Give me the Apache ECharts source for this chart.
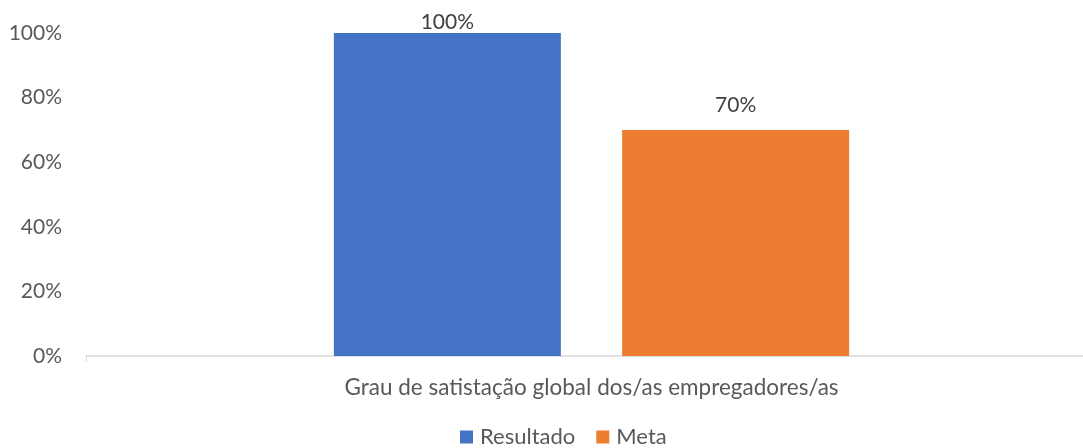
<!DOCTYPE html>
<html>
<head>
<meta charset="utf-8">
<script src="https://cdn.jsdelivr.net/npm/echarts@6/dist/echarts.min.js"></script>
<style>
  html, body { margin: 0; padding: 0; background: #ffffff; overflow: hidden; }
  #chart { width: 1083px; height: 448px; }
</style>
</head>
<body>
<div id="chart"></div>
<script>
// Satisfaction indicator: result vs. target
const categories = ['Grau de satistação global dos/as empregadores/as'];
const seriesNames = ['Resultado', 'Meta'];
const resultado = [1.00];
const meta = [0.70];
const yTicks = [0, 0.2, 0.4, 0.6, 0.8, 1.0];

const FONT = 'Lato, "Open Sans", sans-serif';
const pct = v => Math.round(v * 100) + '%';

const chart = echarts.init(document.getElementById('chart'), null, { renderer: 'canvas' });

chart.setOption({
  animation: false,
  textStyle: { fontFamily: FONT },
  grid: { left: 86, right: -14, top: 33, bottom: 92, containLabel: false, outerBoundsMode: 'none' },
  legend: {
    bottom: -5,
    left: 455,
    itemWidth: 13,
    itemHeight: 13,
    itemGap: 21,
    icon: 'rect',
    textStyle: { fontFamily: FONT, fontSize: 22, color: '#595959', padding: [0, 0, 0, 2] },
    data: seriesNames
  },
  xAxis: {
    type: 'category',
    data: categories,
    axisLine: { show: true, lineStyle: { color: '#d9d9d9', width: 1.5 } },
    axisTick: { show: true, length: 6, lineStyle: { color: '#d9d9d9' } },
    axisLabel: { margin: 20, fontFamily: FONT, fontSize: 22.5, color: '#595959' }
  },
  yAxis: {
    type: 'value',
    min: yTicks[0],
    max: yTicks[yTicks.length - 1],
    interval: 0.2,
    axisLine: { show: false },
    axisTick: { show: false },
    splitLine: { show: false },
    axisLabel: { margin: 24, fontFamily: FONT, fontSize: 21, color: '#595959', formatter: pct }
  },
  series: [
    {
      name: seriesNames[0],
      type: 'bar',
      data: resultado.map(v => ({ value: v, label: { distance: 0 } })),
      barWidth: 227,
      barGap: '27%',
      itemStyle: { color: '#4472c4' },
      label: { show: true, position: 'top', fontFamily: FONT, fontSize: 21, color: '#404040', formatter: p => pct(p.value) }
    },
    {
      name: seriesNames[1],
      type: 'bar',
      data: meta.map(v => ({ value: v, label: { distance: 14 } })),
      barWidth: 227,
      itemStyle: { color: '#ed7d31' },
      label: { show: true, position: 'top', fontFamily: FONT, fontSize: 21, color: '#404040', formatter: p => pct(p.value) }
    }
  ]
});
</script>
</body>
</html>
